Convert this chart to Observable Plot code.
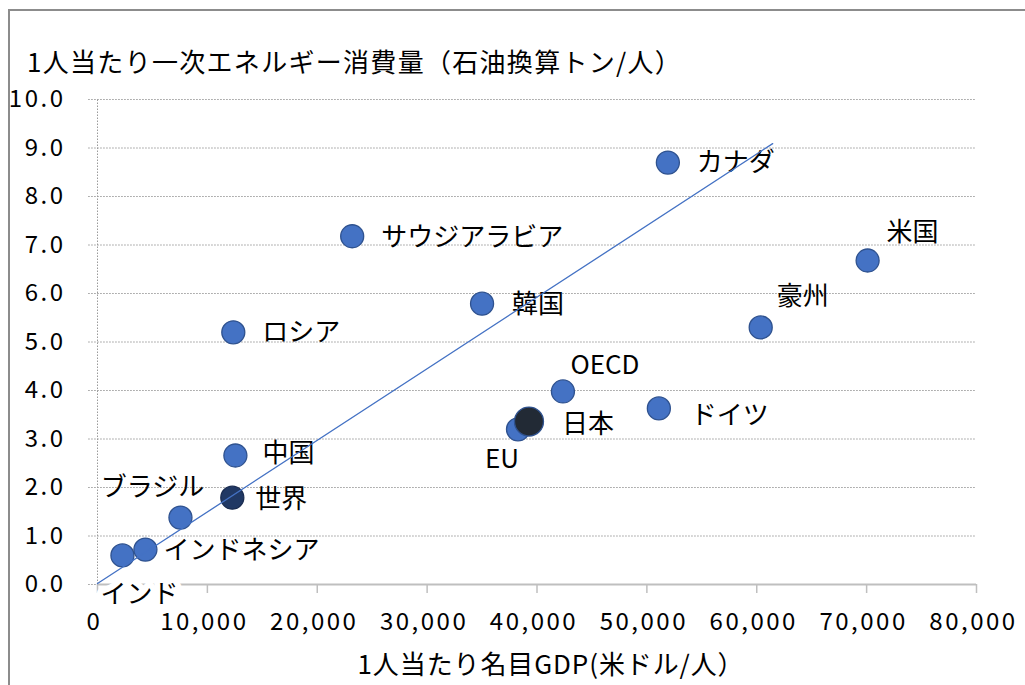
<!DOCTYPE html>
<html>
<head>
<meta charset="utf-8">
<script src="https://cdn.jsdelivr.net/npm/d3@7"></script>
<script src="https://cdn.jsdelivr.net/npm/@observablehq/plot@0.6"></script>
<style>
  body { margin: 0; background: #fff; font-family: "Noto Sans CJK JP", "Noto Sans", sans-serif; }
  #wrap { position: relative; width: 1025px; height: 685px; overflow: hidden; background: #fff; }
  #frame { position: absolute; left: 8px; top: 9px; width: 1100px; height: 800px; border: 2px solid #8c8c8c; box-sizing: border-box; }
  #title { position: absolute; left: 27px; top: 46px; font-size: 26px; line-height: 30px; color: #000; white-space: nowrap; letter-spacing: 1.3px; }
  #chart { position: absolute; left: 0; top: 85px; }
</style>
</head>
<body>
<div id="wrap">
  <div id="frame"></div>
  <div id="title"></div>
  <div id="chart"></div>
</div>
<script>
// ---- data ----
const titleText = "1人当たり一次エネルギー消費量（石油換算トン/人）";
const xLabelText = "1人当たり名目GDP(米ドル/人）";
const countries = ["インド", "インドネシア", "ブラジル", "世界", "中国", "ロシア", "サウジアラビア", "韓国", "EU", "日本", "OECD", "ドイツ", "カナダ", "豪州", "米国"];
const gdpPerCapita = [2270, 4360, 7550, 12270, 12550, 12360, 23180, 35000, 38270, 39270, 42360, 51090, 51910, 60360, 70090];
const energyPerCapita = [0.60, 0.72, 1.38, 1.79, 2.66, 5.20, 7.18, 5.79, 3.20, 3.36, 3.98, 3.63, 8.70, 5.30, 6.68];
const trendX = [0, 61450];
const trendY = [0.02, 9.09];
const yTicks = [0, 1, 2, 3, 4, 5, 6, 7, 8, 9, 10];
const xTicks = [0, 10000, 20000, 30000, 40000, 50000, 60000, 70000, 80000];

// ---- styling (label placement, highlight) ----
const labelPlacement = {
  "インド": {dx: 17, dy: 39, anchor: "middle"},
  "インドネシア": {dx: 18, dy: 1, anchor: "start"},
  "ブラジル": {dx: -28, dy: -30, anchor: "middle"},
  "世界": {dx: 23, dy: 2, anchor: "start"},
  "中国": {dx: 27, dy: -2, anchor: "start"},
  "ロシア": {dx: 29, dy: 0, anchor: "start"},
  "サウジアラビア": {dx: 29, dy: 1, anchor: "start"},
  "韓国": {dx: 30, dy: 1, anchor: "start"},
  "EU": {dx: -16, dy: 30, anchor: "middle"},
  "日本": {dx: 33, dy: 3, anchor: "start"},
  "OECD": {dx: 42, dy: -26, anchor: "middle"},
  "ドイツ": {dx: 32, dy: 7, anchor: "start"},
  "カナダ": {dx: 29, dy: 0, anchor: "start"},
  "豪州": {dx: 42, dy: -31, anchor: "middle"},
  "米国": {dx: 45, dy: -28, anchor: "middle"}
};
const pointStyle = {
  "世界": {fill: "#203864", stroke: "#1a2c50", r: 11.5},
  "日本": {fill: "#222a35", stroke: "#2f528f", r: 14.5}
};
const defaultPoint = {fill: "#4472c4", stroke: "#2f528f", r: 11.5};

const data = countries.map((name, i) => ({name, gdp: gdpPerCapita[i], energy: energyPerCapita[i]}));
const trend = trendX.map((x, i) => ({x, y: trendY[i]}));

document.getElementById("title").textContent = titleText;

const font = "'Noto Sans CJK JP', 'Noto Sans', sans-serif";
const labelMark = (d, halo) => {
  const p = labelPlacement[d.name];
  return Plot.text([d], {
    x: "gdp", y: "energy", text: "name",
    dx: p.dx, dy: p.dy, textAnchor: p.anchor, lineAnchor: "middle",
    fontSize: 26, fill: "#000",
    ...(halo ? {stroke: "white", strokeWidth: 12} : {})
  });
};
const dotMark = (rows, s) => Plot.dot(rows, {x: "gdp", y: "energy", r: s.r, fill: s.fill, stroke: s.stroke, strokeWidth: 1.3});

const plot = Plot.plot({
  width: 1025,
  height: 600,
  marginTop: 14,
  marginBottom: 101,
  marginLeft: 97,
  marginRight: 49,
  style: {fontFamily: font, fontSize: "24px", background: "transparent", overflow: "visible", color: "#000"},
  x: {domain: [0, 80000]},
  y: {domain: [0, 10]},
  marks: [
    Plot.ruleY(yTicks, {x1: -800, x2: 80000, stroke: "#9a9a9a", strokeWidth: 1, strokeDasharray: "1.5,1.5"}),
    Plot.ruleX([0], {y1: 0, y2: 10, stroke: "#9a9a9a", strokeWidth: 1, strokeDasharray: "1.5,1.5"}),
    Plot.axisY({ticks: yTicks, tickFormat: d3.format(".1f"), tickSize: 0, tickPadding: 32, label: null, fontSize: 24}),
    Plot.ruleY([0], {x1: 0, x2: 80000, stroke: "#bfbfbf", strokeWidth: 2}),
    Plot.axisX({ticks: xTicks, tickFormat: d3.format(","), tickSize: 9, tickPadding: 19, stroke: "#bfbfbf", strokeWidth: 1.5, label: null, fontSize: 24}),
    Plot.text([xLabelText], {frameAnchor: "bottom", dy: 81, dx: 14, lineAnchor: "middle", fontSize: 26, fill: "#000"}),
    ...data.filter(d => d.name === "インド").map(d => labelMark(d, true)),
    dotMark(data.filter(d => !pointStyle[d.name]), defaultPoint),
    ...Object.keys(pointStyle).map(k => dotMark(data.filter(d => d.name === k), pointStyle[k])),
    ...data.filter(d => d.name !== "インド").map(d => labelMark(d, false)),
    Plot.line(trend, {x: "x", y: "y", stroke: "#4472c4", strokeWidth: 1.3})
  ]
});
const sel = d3.select(plot);
sel.selectAll('g[aria-label="y-axis tick label"] text, g[aria-label="x-axis tick label"] text').style("letter-spacing", "2.5px");
sel.selectAll('g[aria-label="x-axis tick label"]').each(function() {
  const t = this.getAttribute("transform") || "";
  this.setAttribute("transform", (t + " translate(-3,0)").trim());
});
sel.selectAll("text").filter(function() { return this.textContent === xLabelText; }).style("letter-spacing", "0.9px");
document.getElementById("chart").appendChild(plot);
</script>
</body>
</html>
